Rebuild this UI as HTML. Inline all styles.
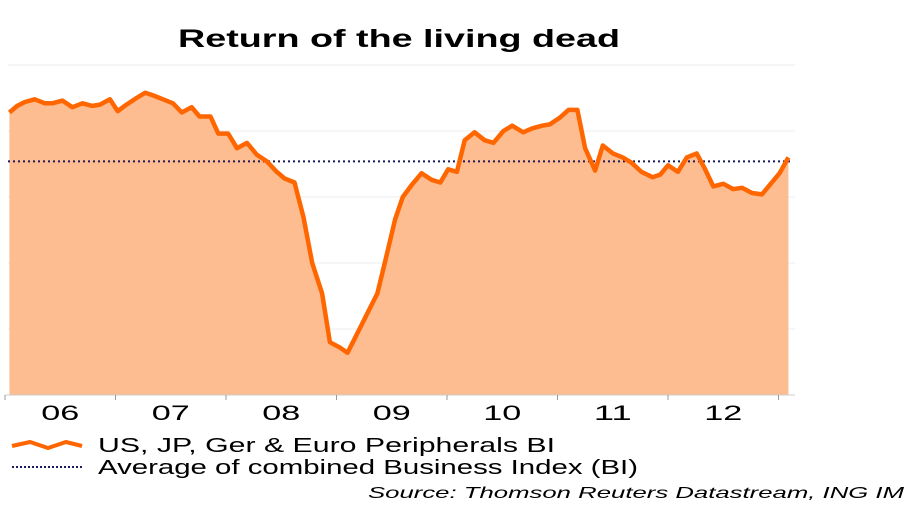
<!DOCTYPE html>
<html><head><meta charset="utf-8"><style>
body{margin:0;background:#fff;width:920px;height:510px;overflow:hidden;font-family:"Liberation Sans",Arial,sans-serif}
</style></head><body>
<svg id="chart" width="920" height="510" xmlns="http://www.w3.org/2000/svg">
<text x="178" y="47" font-size="25" font-weight="bold" fill="#000" textLength="442" lengthAdjust="spacingAndGlyphs">Return of the living dead</text>
<g id="grid"></g><g id="area"></g><g id="avg"></g><g id="line"></g><g id="axis"></g>
<g>
<polyline points="12,446 30,442 48,448 66,442 82,446" fill="none" stroke="#ff6600" stroke-width="4"/>
<text x="98" y="452" font-size="20" textLength="457" lengthAdjust="spacingAndGlyphs">US, JP, Ger &amp; Euro Peripherals BI</text>
<line x1="12" y1="467" x2="84" y2="467" stroke="#1a1a5e" stroke-width="2" stroke-dasharray="2,2"/>
<text x="98" y="474" font-size="20" textLength="540" lengthAdjust="spacingAndGlyphs">Average of combined Business Index (BI)</text>
</g>
<text x="368" y="498" font-size="16" font-style="italic" textLength="536" lengthAdjust="spacingAndGlyphs">Source: Thomson Reuters Datastream, ING IM</text>
</svg>
<script>
const dates=[2006.04,2006.11,2006.18,2006.27,2006.36,2006.43,2006.52,2006.61,2006.70,2006.79,2006.86,2006.95,2007.02,2007.10,2007.19,2007.27,2007.34,2007.43,2007.52,2007.60,2007.69,2007.76,2007.86,2007.93,2008.02,2008.10,2008.19,2008.28,2008.37,2008.46,2008.53,2008.62,2008.70,2008.78,2008.87,2008.94,2009.03,2009.10,2009.19,2009.28,2009.37,2009.46,2009.53,2009.60,2009.68,2009.77,2009.86,2009.94,2010.01,2010.09,2010.16,2010.25,2010.34,2010.42,2010.51,2010.59,2010.69,2010.77,2010.86,2010.93,2011.02,2011.10,2011.18,2011.25,2011.34,2011.41,2011.50,2011.59,2011.67,2011.76,2011.86,2011.93,2012.00,2012.09,2012.17,2012.26,2012.33,2012.41,2012.50,2012.59,2012.67,2012.76,2012.85,2012.92,2013.01,2013.09];
const values=[56.4,56.9,57.2,57.4,57.1,57.1,57.3,56.8,57.1,56.9,57.0,57.4,56.5,57.0,57.5,57.9,57.7,57.4,57.1,56.4,56.8,56.1,56.1,54.8,54.8,53.7,54.1,53.2,52.7,51.9,51.4,51.1,48.5,45.0,42.7,39.0,38.6,38.2,39.7,41.2,42.7,45.8,48.3,50.0,50.9,51.8,51.3,51.1,52.1,51.9,54.3,54.9,54.3,54.1,55.0,55.4,54.9,55.2,55.4,55.5,56.0,56.6,56.6,53.7,52.0,53.9,53.3,53.0,52.6,51.9,51.5,51.7,52.4,51.9,53.0,53.3,52.2,50.8,51.0,50.6,50.7,50.3,50.2,50.9,51.8,53.0];
const average=52.7;
const yTicks=[35,40,45,50,55,60];
const yearLabels=["06","07","08","09","10","11","12"];
const years=[2006,2007,2008,2009,2010,2011,2012,2013];
const NS="http://www.w3.org/2000/svg";
const x=d=>5+(d-2006)*110.5;
const y=v=>65+(60-v)*13.2;
const bottom=395;
function mk(t,a,p){const e=document.createElementNS(NS,t);for(const k in a)e.setAttribute(k,a[k]);document.getElementById(p).appendChild(e);return e;}
yTicks.forEach(v=>{const l=mk('line',{x1:8,x2:795,y1:y(v),y2:y(v),stroke:'#ececec','stroke-width':1},'grid');

});
const pts=dates.map((d,i)=>x(d).toFixed(1)+','+y(values[i]).toFixed(1));
const a=mk('polygon',{points:x(dates[0])+','+bottom+' '+pts.join(' ')+' '+x(dates[dates.length-1])+','+bottom,fill:'#fdbd91'},'area');


const ln=mk('polyline',{points:pts.join(' '),fill:'none',stroke:'#ff6600','stroke-width':4.5,'stroke-linejoin':'round'},'line');


const av=mk('line',{x1:8,x2:792,y1:y(average),y2:y(average),stroke:'#1a1a5e','stroke-width':2,'stroke-dasharray':'2,3'},'avg');


const ax=mk('line',{x1:5,x2:795,y1:bottom,y2:bottom,stroke:'#ccc','stroke-width':1},'axis');


years.forEach(yr=>{const t=mk('line',{x1:x(yr),x2:x(yr),y1:bottom,y2:bottom+5,stroke:'#999'},'axis');

});
yearLabels.forEach((s,i)=>{const t=mk('text',{x:x(years[i]+0.5)-19,y:420,'font-size':21,textLength:38,lengthAdjust:'spacingAndGlyphs'},'axis');t.textContent=s;

});
</script>
</body></html>
